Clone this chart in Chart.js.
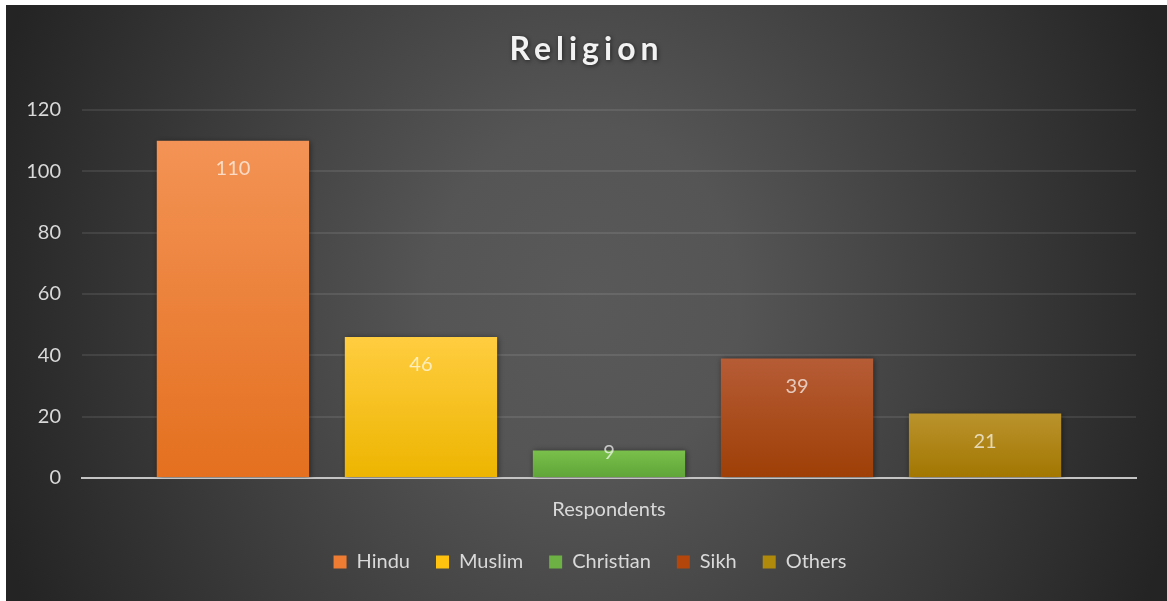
<!DOCTYPE html>
<html>
<head>
<meta charset="utf-8">
<title>Religion</title>
<script src="https://cdn.jsdelivr.net/npm/chart.js@4.4.0/dist/chart.umd.min.js"></script>
<style>
  html, body { margin: 0; padding: 0; background: #ffffff; }
  #wrap { position: absolute; left: 6px; top: 5px; width: 1161px; height: 596px; }
</style>
</head>
<body>
<div id="wrap"><canvas id="chart"></canvas></div>
<script>
// ---- data ----
const chartTitle = 'Religion';
const categories = ['Respondents'];
const religions = ['Hindu', 'Muslim', 'Christian', 'Sikh', 'Others'];
const respondents = [110, 46, 9, 39, 21];
const yTicks = [0, 20, 40, 60, 80, 100, 120];

// ---- styling ----
const barTop = ['#F39355', '#FFCD40', '#7AC04B', '#B65C36', '#BA932D'];
const barBottom = ['#E4701F', '#EDB500', '#5EA438', '#9E3F06', '#A27600'];
const legendColor = ['#EE7D33', '#FFC20E', '#6DB043', '#B4460C', '#B08A0B'];
const FONT = 'Lato, "Open Sans", "DejaVu Sans", sans-serif';
const textColor = '#d9d9d9';

function barGradient(i) {
  return (ctx) => {
    const chart = ctx.chart;
    const y = chart.scales && chart.scales.y;
    if (!chart.chartArea || !y) return barBottom[i];
    const top = y.getPixelForValue(respondents[i]);
    const base = y.getPixelForValue(0);
    const g = chart.ctx.createLinearGradient(0, top, 0, base);
    g.addColorStop(0, barTop[i]);
    g.addColorStop(1, barBottom[i]);
    return g;
  };
}

const datasets = religions.map((name, i) => ({
  label: name,
  data: [respondents[i]],
  backgroundColor: barGradient(i),
  borderWidth: 0,
  categoryPercentage: 0.892,
  barPercentage: 0.81
}));

// dark radial backdrop
const backdrop = {
  id: 'backdrop',
  beforeDraw(chart) {
    const { ctx, width, height } = chart;
    const cx = 579, cy = 295, rx = 620, ry = 700;
    ctx.save();
    ctx.translate(cx, cy);
    ctx.scale(rx / ry, 1);
    const g = ctx.createRadialGradient(0, 0, 0, 0, 0, ry);
    g.addColorStop(0, '#595959');
    g.addColorStop(0.25, '#555555');
    g.addColorStop(1, '#242424');
    ctx.fillStyle = g;
    ctx.fillRect(-cx * ry / rx - 10, -cy - 10, (width + 20) * ry / rx, height + 20);
    ctx.restore();
  }
};

// spaced bold heading
const heading = {
  id: 'heading',
  afterDraw(chart) {
    const ctx = chart.ctx;
    const spacing = 5;
    ctx.save();
    ctx.font = 'bold 32px ' + FONT;
    ctx.letterSpacing = spacing + 'px';
    ctx.fillStyle = '#f2f2f2';
    ctx.textBaseline = 'alphabetic';
    ctx.textAlign = 'left';
    ctx.shadowColor = 'rgba(0,0,0,0.55)';
    ctx.shadowBlur = 4;
    ctx.shadowOffsetX = 1;
    ctx.shadowOffsetY = 1;
    const w = ctx.measureText(chartTitle).width - spacing;
    ctx.fillText(chartTitle, 578 - w / 2, 55);
    ctx.restore();
  }
};

// soft shadow under bars, value labels inside the bar ends
const barDecor = {
  id: 'barDecor',
  beforeDatasetsDraw(chart) {
    const ctx = chart.ctx;
    ctx.save();
    ctx.shadowColor = 'rgba(0,0,0,0.5)';
    ctx.shadowBlur = 6;
    ctx.shadowOffsetX = 1;
    ctx.shadowOffsetY = 1;
  },
  afterDatasetsDraw(chart) {
    const ctx = chart.ctx;
    ctx.restore();
    ctx.save();
    ctx.font = '20px ' + FONT;
    ctx.fillStyle = 'rgba(255,255,255,0.68)';
    ctx.textAlign = 'center';
    ctx.textBaseline = 'middle';
    chart.data.datasets.forEach((ds, i) => {
      const bar = chart.getDatasetMeta(i).data[0];
      if (!bar) return;
      let y = bar.y + 28;
      if (y + 10 > bar.base) y = bar.y + 2;
      ctx.fillText(String(ds.data[0]), bar.x, y);
    });
    ctx.restore();
  },
  afterLayout(chart) {
    if (chart.legend) {
      chart.legend.left += 19;
      chart.legend.right += 19;
    }
  }
};

new Chart(document.getElementById('chart'), {
  type: 'bar',
  data: { labels: categories, datasets },
  plugins: [backdrop, barDecor, heading],
  options: {
    responsive: true,
    maintainAspectRatio: false,
    animation: false,
    layout: { padding: { top: 105, right: 31, bottom: 19, left: 0 } },
    plugins: {
      title: { display: false },
      tooltip: { enabled: false },
      legend: {
        position: 'bottom',
        labels: {
          color: textColor,
          font: { family: FONT, size: 20 },
          boxWidth: 13,
          boxHeight: 13,
          padding: 26,
          generateLabels: (chart) => chart.data.datasets.map((ds, i) => ({
            text: ds.label,
            fillStyle: legendColor[i],
            strokeStyle: legendColor[i],
            lineWidth: 0,
            fontColor: textColor,
            datasetIndex: i,
            hidden: false
          }))
        }
      }
    },
    scales: {
      x: {
        grid: { display: false, drawTicks: false },
        border: { display: true, color: '#c4c4c4', width: 2 },
        ticks: { color: textColor, font: { family: FONT, size: 20 }, padding: 20 },
        afterFit: (s) => { s.height -= 16; }
      },
      y: {
        min: yTicks[0],
        max: yTicks[yTicks.length - 1],
        afterBuildTicks: (s) => { s.ticks = yTicks.map(v => ({ value: v })); },
        grid: { color: 'rgba(255,255,255,0.09)', lineWidth: 2, drawTicks: false },
        border: { display: false },
        ticks: { color: textColor, font: { family: FONT, size: 20 }, padding: 21 },
        afterFit: (s) => { s.width = 76; }
      }
    }
  }
});
</script>
</body>
</html>
